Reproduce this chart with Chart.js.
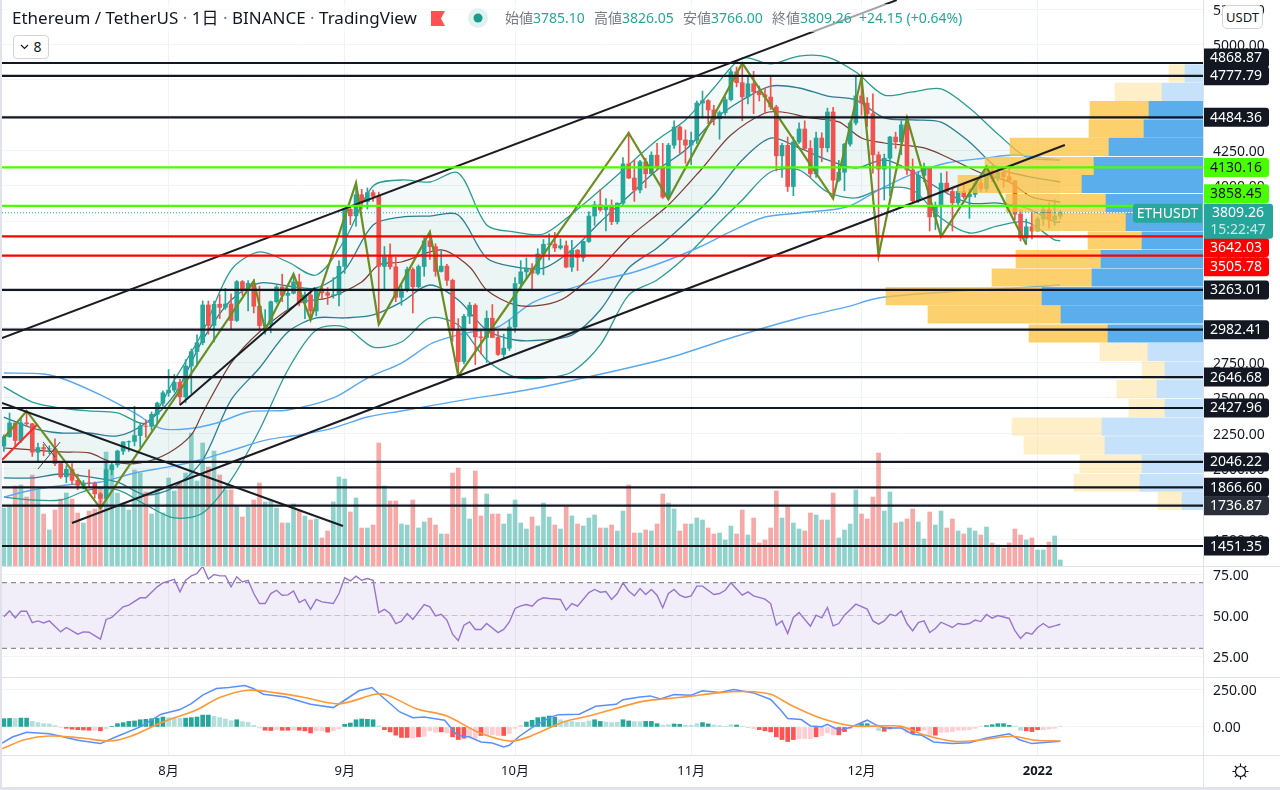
<!DOCTYPE html>
<html><head><meta charset="utf-8"><title>ETHUSDT</title>
<script src="https://cdn.jsdelivr.net/npm/chart.js@4"></script>
<style>
html,body{margin:0;padding:0;background:#fff;width:1280px;height:790px;overflow:hidden;font-family:"Noto Sans","Noto Sans CJK JP",sans-serif;color:#131722}
canvas{position:absolute;left:0}
.hd{position:absolute;white-space:nowrap}
.sep{position:absolute;background:#e0e3eb}
.g{color:#787b86}.t{color:#26a69a}
</style></head><body>
<div style="position:absolute;left:0;top:0;width:1280px;height:566px"><canvas id="cPrice" width="1280" height="566" style="top:0"></canvas></div>
<canvas id="cRsi" width="1280" height="111" style="top:566px"></canvas>
<canvas id="cMacd" width="1280" height="113" style="top:677px"></canvas>
<div class="sep" style="left:0;top:0;width:2px;height:790px"></div>
<div class="sep" style="left:1203px;top:0;width:1px;height:787px"></div>
<div class="sep" style="left:0;top:566px;width:1280px;height:1px"></div>
<div class="sep" style="left:0;top:677px;width:1280px;height:1px"></div>
<div class="sep" style="left:0;top:755px;width:1280px;height:1px"></div>
<div class="sep" style="left:0;top:787px;width:1280px;height:3px"></div>
<div style="position:absolute;left:3px;top:4px;width:972px;height:28px;background:rgba(255,255,255,.6)"></div>
<div class="hd" style="left:12px;top:7px;font-size:17px;line-height:22px">Ethereum / TetherUS <span class="g">·</span> 1日 <span class="g">·</span> BINANCE <span class="g">·</span> TradingView</div>
<svg style="position:absolute;left:430px;top:11px" width="16" height="15"><path d="M1 0H15L11 7.5L15 15H1Z" fill="#ff5252"/></svg>
<svg style="position:absolute;left:468px;top:8px" width="20" height="20"><circle cx="10" cy="10" r="10" fill="#e0f2f0"/><circle cx="10" cy="10" r="4.5" fill="#1a9c8c"/></svg>
<div class="hd" style="left:505px;top:8px;font-size:14px;line-height:20px"><span class="g">始値</span><span class="t">3785.10</span></div>
<div class="hd" style="left:594px;top:8px;font-size:14px;line-height:20px"><span class="g">高値</span><span class="t">3826.05</span></div>
<div class="hd" style="left:683px;top:8px;font-size:14px;line-height:20px"><span class="g">安値</span><span class="t">3766.00</span></div>
<div class="hd" style="left:772px;top:8px;font-size:14px;line-height:20px"><span class="g">終値</span><span class="t">3809.26</span></div>
<div class="hd t" style="left:859px;top:8px;font-size:14px;line-height:20px">+24.15 (+0.64%)</div>
<div class="hd" style="left:13px;top:35px;width:34px;height:22px;border:1px solid #d1d4dc;border-radius:4px;background:#fff;font-size:14px;line-height:22px;text-align:center"><svg width="9" height="6" style="margin-right:4px;vertical-align:2px"><path d="M1 1L4.5 4.5L8 1" stroke="#131722" fill="none" stroke-width="1.2"/></svg>8</div>
<div class="hd" style="left:1222px;top:5px;width:39px;height:22px;border:1px solid #d1d4dc;border-radius:5px;background:#fff;font-size:13px;line-height:22px;text-align:center">USDT</div>
<svg style="position:absolute;left:1232px;top:763px" width="17" height="17"><g stroke="#131722" stroke-width="1.2" fill="none"><circle cx="8.5" cy="8.5" r="5"/><path d="M8.5 0.5V3.5M8.5 13.5V16.5M0.5 8.5H3.5M13.5 8.5H16.5M2.8 2.8L5 5M12 12L14.2 14.2M2.8 14.2L5 12M12 5L14.2 2.8"/></g></svg>
<script>
// ---- categories: days counted from 1 Aug 2021 ----
const firstDay = -29;
const monthDays = [0,31,61,92,122,153];
const monthLabels = ['8月','9月','10月','11月','12月','2022'];
const priceTicks = [1500,1750,2000,2250,2500,2750,3000,3250,3500,3750,4000,4250,4500,4750,5000,5250];
const rsiTicks = [25,50,75];
const macdTicks = [0,250];
// ---- candles ----
const opens = [2158,2225,2322,2198,2323,2316,2115,2148,2138,2139,2035,1941,1994,1916,1880,1898,1895,1820,1788,1992,2026,2123,2188,2191,2233,2300,2298,2383,2462,
2536,2555,2610,2507,2725,2827,2890,3157,3012,3162,3140,3164,3047,3322,3267,3310,3148,3011,3017,3180,3284,3225,3240,3320,3172,3227,3114,3270,3243,3225,3229,
3430,3834,3787,3937,3888,3952,3926,3430,3498,3427,3211,3266,3408,3286,3429,3611,3570,3394,3432,3331,2975,2756,3077,3155,2931,2926,3063,2927,2807,2851,
3001,3308,3391,3418,3381,3518,3586,3588,3560,3576,3425,3544,3492,3606,3786,3866,3830,3847,3746,3877,4155,4055,3970,4170,4085,4217,4130,3920,4287,4416,4325,
4288,4322,4586,4603,4537,4474,4518,4610,4807,4730,4630,4722,4665,4644,4628,4558,4212,4286,3995,4310,4402,4264,4085,4338,4269,4522,4040,4096,4295,4445,
4636,4585,4510,4219,4118,4195,4345,4311,4431,4112,3894,4074,4130,3780,3860,4019,3960,3880,3960,3923,3940,4020,3980,4110,4050,4095,4065,4035,3800,3630,3710,
3680,3765,3830,3760,3785.1];
const highs = [2238,2392,2322,2355,2410,2320,2180,2170,2160,2210,2035,2020,2035,1960,1915,1990,1905,1830,2040,2045,2130,2190,2195,2440,2320,2345,2400,2470,2550,
2700,2665,2630,2770,2845,2945,3185,3185,3185,3230,3275,3235,3330,3330,3330,3335,3290,3125,3185,3295,3375,3275,3375,3375,3250,3250,3280,3290,3280,3350,3470,
3840,3850,4027,3975,3985,3970,3955,3570,3590,3495,3300,3425,3420,3440,3635,3680,3590,3540,3445,3340,3060,3090,3175,3165,2970,3115,3160,2970,2950,3050,
3350,3470,3490,3450,3555,3620,3660,3670,3625,3610,3615,3550,3610,3815,3890,3975,3910,3900,3880,4200,4380,4180,4180,4195,4240,4300,4300,4300,4460,4425,4395,
4380,4600,4670,4610,4570,4530,4630,4825,4840,4870,4780,4810,4705,4690,4770,4570,4300,4345,4345,4445,4460,4320,4380,4375,4550,4555,4180,4300,4460,4780,
4780,4625,4650,4240,4225,4350,4380,4460,4490,4190,4100,4160,4130,3885,4090,4100,3990,3990,4025,3980,4045,4070,4135,4145,4125,4100,4130,4035,3830,3765,3815,
3780,3860,3880,3900,3826.05];
const lows = [2120,2220,2160,2185,2300,2085,2045,2090,2105,2020,1930,1900,1885,1850,1855,1870,1790,1720,1770,1955,2010,2100,2120,2160,2150,2220,2270,2320,2440,
2510,2540,2450,2465,2530,2725,2875,2950,2895,3060,3125,2990,3040,3225,3115,3100,2985,2950,2960,3170,3180,3125,3235,3150,3060,3065,3080,3200,3160,3205,3150,
3380,3725,3715,3835,3835,3890,3050,3260,3410,3180,3155,3250,3100,3275,3360,3480,3360,3390,3295,2900,2650,2740,3025,2735,2810,2750,2925,2800,2785,2835,
2965,3265,3340,3270,3370,3370,3475,3535,3550,3420,3395,3400,3465,3600,3720,3820,3680,3725,3730,3855,4050,3890,3950,3985,4075,4110,3910,3905,4265,4230,4160,
4150,4300,4480,4440,4430,4330,4500,4600,4700,4460,4580,4510,4600,4510,4540,4105,4060,3960,3930,4300,4250,4060,4060,4170,4240,3910,4030,3965,4280,4430,
4500,4420,4090,3505,3900,3930,4265,4220,4080,3885,3880,4030,3680,3690,3640,3950,3680,3860,3910,3770,3920,3960,3960,4030,4035,3990,4030,3760,3610,3585,3625,
3680,3720,3700,3720,3766];
const closes = [2225,2322,2198,2323,2316,2115,2148,2138,2139,2035,1941,1994,1916,1880,1898,1895,1820,1788,1992,2026,2123,2188,2191,2233,2300,2298,2383,2462,2536,
2555,2610,2507,2725,2827,2890,3157,3012,3162,3140,3164,3047,3322,3267,3310,3148,3011,3017,3180,3284,3225,3240,3320,3172,3227,3114,3270,3243,3225,3229,3430,
3834,3787,3937,3888,3952,3926,3430,3498,3427,3211,3266,3408,3286,3429,3611,3570,3394,3432,3331,2975,2756,3077,3155,2931,2926,3063,2927,2807,2851,3001,
3308,3391,3418,3381,3518,3586,3588,3560,3576,3425,3544,3492,3606,3786,3866,3830,3847,3746,3877,4155,4055,3970,4170,4085,4217,4130,3920,4287,4416,4325,4288,
4322,4586,4603,4537,4474,4518,4610,4807,4730,4630,4722,4665,4644,4628,4558,4212,4286,3995,4310,4402,4264,4085,4338,4269,4522,4040,4096,4295,4445,4636,
4585,4510,4219,4118,4195,4345,4311,4431,4112,3894,4074,4130,3780,3860,4019,3960,3880,3960,3923,3940,4020,3980,4110,4050,4095,4065,4035,3800,3630,3710,3680,
3765,3830,3760,3785,3809.26];
// ---- volume ----
const volumes = [580,600,800,810,690,910,760,520,360,560,670,730,670,530,430,550,570,790,1140,990,730,630,560,960,930,740,520,790,530,880,750,830,930,1330,850,1230,990,1150,910,760,760,600,490,590,660,830,640,660,580,430,430,620,560,500,460,470,280,350,640,890,870,540,680,380,380,410,1230,800,650,650,
420,410,660,380,440,480,410,320,320,930,980,680,470,950,500,720,520,520,420,520,660,430,370,490,400,630,490,410,370,590,500,420,400,480,510,380,380,410,350,550,810,330,
330,360,350,420,720,630,570,350,420,420,480,460,380,320,330,260,400,320,560,310,480,230,260,380,750,480,590,430,370,350,530,510,460,460,730,280,360,420,760,520,470,690,1130,550,740,430,440,470,570,440,270,540,410,550,380,470,350,320,380,350,310,390,230,210,180,230,370,310,260,280,160,160,240,300,60];
// ---- bollinger bands, sampled ----
const bandDays = [-29,-24,-19,-14,-9,-4,1,6,11,16,21,26,31,36,41,46,51,56,61,66,71,76,81,86,91,96,101,106,111,116,121,126,131,136,141,146,151,156,157];
const bandUpper2 = [2577,2470,2428,2407,2393,2322,2626,2966,3404,3532,3461,3369,3617,3999,4041,4027,4091,3723,3673,3659,3801,3970,4147,4324,4466,4692,4904,4862,4918,4911,4805,4642,4664,4685,4550,4367,4204,4183,4183];
const bandUpper1 = [2364,2286,2251,2251,2230,2322,2520,2909,3192,3312,3291,3277,3404,3723,3779,3786,3793,3489,3426,3418,3546,3744,3928,4112,4253,4466,4607,4706,4692,4635,4607,4480,4466,4451,4310,4126,4069,4034,4027];
const bandLower1 = [1933,1933,1961,1940,1904,1812,1869,2060,2485,2711,2966,3065,3065,3086,3178,3298,3192,2980,2909,2909,2944,3121,3418,3560,3737,3935,4183,4338,4268,4183,4126,4183,4098,3970,3878,3878,3843,3744,3744];
const bandLower2 = [1798,1777,1777,1848,1848,1742,1650,1685,1919,2272,2697,2980,3001,2859,2895,3065,3015,2768,2647,2640,2683,2874,3227,3334,3496,3702,3900,4098,4112,3956,3914,3984,3970,3772,3666,3716,3744,3617,3610];
// ---- moving averages, sampled ----
const maMidDays = [-29,-24,-19,-14,-10,-5,0,4,6,11,16,23,28,34,37,41,48,53,56,61,66,70,76,81,88,94,99,105,108,113,118,122,126,133,137,143,148,152,157];
const maMid = [2145,2131,2117,2110,2046,2039,2110,2237,2393,2746,2966,3171,3206,3320,3440,3461,3546,3426,3263,3157,3157,3213,3418,3631,3864,4126,4359,4515,4522,4480,4452,4338,4303,4268,4204,4091,4027,3921,3885];
const maSlowDays = [-29,-22,-18,-12,-6,-1.5,3,8.5,14,21,29,35,41,46.5,52.5,58,64,70,76,82,88,93.5,99.5,105,111,119.4,125,130.5,137,144,149,157];
const maSlow = [2676,2668,2626,2520,2393,2286,2279,2322,2400,2414,2499,2640,2746,2888,2959,3001,3171,3263,3334,3390,3475,3567,3687,3779,3808,3850,3970,4076,4161,4197,4218,4183];
const maLongDays = [-29,-24,-18,-12,-6,0,5.5,11.3,17.3,23,29,35,41,52,63,73,88,99.5,111,119.4,125,137,149,157];
const maLong = [1798,1848,1883,1904,1968,2011,2060,2131,2202,2237,2286,2364,2407,2485,2555,2640,2782,2930,3065,3143,3206,3249,3277,3298];
// ---- zigzag pivots ----
const zigDays = [-29,-25,-12,15,17,22,25,33,37,46,51,81,88,101,117,122,125,130,136,144,151];
const zigPrices = [2216,2407,1720,3327,2980,3376,3051,4020,3020,3673,2655,4374,3905,4868,3910,4770,3505,4480,3640,4135,3585];
// ---- drawn trend lines ----
const channelTopDays = [-29.33,128.2], channelTopPrices = [2923,5314];
const channelLowDays = [-17,157.8], channelLowPrices = [1614,4289];
const downTrendDays = [-29.33,30.7], downTrendPrices = [2463,1593];
const supportDays = [2,25.8], supportPrices = [2449,3277];
const redLegDays = [-29.33,-23.2], redLegPrices = [2060,2308];
const crossADays = [-22.1,-20], crossAPrices = [2187,2081];
const crossBDays = [-23,-19.1], crossBPrices = [1996,2187];
// ---- horizontal levels ----
const blackLevels = [4868.87,4777.79,4484.36,3263.01,2982.41,2646.68,2427.96,2046.22,1866.60,1736.87,1451.35];
const greenLevels = [4130.16,3858.45];
const redLevels = [3642.03,3505.78];
const lastPrice = 3809.26;
// ---- volume profile ----
const vpPrices = [4795,4664,4536,4405,4275,4140,4013,3878,3744,3613,3482,3351,3220,3090,2955,2824,2693,2562,2428,2296,2163,2032,1899,1770];
const vpBlue = [18,41,54,59,94,109,121,97,77,61,102,111,161,142,95,55,38,46,38,101,98,61,63,21];
const vpYellow = [16,47,59,55,99,109,124,100,93,54,85,100,156,133,79,48,23,40,36,90,81,62,66,24];
const vpInValueArea = [0,0,1,1,1,1,1,1,1,1,1,1,1,1,1,0,0,0,0,0,0,0,0,0];
// ---- RSI ----
const rsiDays = [-29,-28,-27,-26,-25,-24,-23,-22,-21,-19,-18,-16,-15,-14,-12,-11,-10,-8,-7,-5,-4,-2,-1,1,2,3,4,5,6,7,8,9,10,11,12,13,14,15,16,17,18,19,20,21,22,23,24,25,26,27,29,30,31,32,33,34,35,36,37,38,39,40,41,42,43,45,46,47,48,49,50,51,52,53,54,55,56,58,59,60,61,62,63,64,65,66,67,69,70,71,72,74,75,76,77,78,79,80,81,82,83,84,85,86,87,88,89,90,91,92,93,94,96,97,98,99,101,102,103,105,106,107,108,109,110,111,113,114,115,116,117,118,119,121,123,124,125,126,127,128,129,130,131,132,133,134,135,136,138,139,140,141,142,143,144,145,146,148,149,150,151,152,153,154,155,156,157];
const rsiValues = [49.2,52.8,48.6,52.6,52.6,45.7,46.7,45.5,46.7,40,42.7,38.6,40,39.8,35.6,47.6,48.8,55.3,56.3,60.8,60.8,67.5,69.9,72,64.4,71.5,74.2,75.6,80,72.2,75,74.2,74.2,67.5,73.6,70.5,71.5,63.4,57.3,57.3,63.4,65.4,62.4,62.6,65,57.9,59.8,53.7,59.8,58.3,57.3,63.4,73,71.1,74,71.5,72.6,71.5,51.8,53.7,51.2,45.1,46.5,51.2,47.6,56.7,55.3,49.8,50.8,47.2,38.6,34.6,44.1,46.1,41.5,41.5,45.1,39.6,41.5,46.1,54.3,55.9,56.7,55.7,59.3,60.8,60.4,59.8,53.3,57.3,55.7,64,65.9,64.2,64.6,59.8,63.4,69.9,65,62,66.5,62.8,65.9,62.4,54.7,63.4,65.9,62.4,61,62,67.9,67.9,62.8,63.4,65.4,69.9,62.4,64.4,62,60,57.3,44.1,46.7,39,48.8,51.8,43.5,50.2,48.6,54.9,43.7,45.1,50.2,56.9,53.9,46.7,44.7,46.7,50.8,49.8,52.8,45.1,40.7,45.7,46.7,39.6,42.1,45.9,42.7,45.1,44.5,45.1,47.2,46.3,50.6,48.4,50,48.2,40.7,36,39.6,38.6,42.7,45.1,42.7,43.7,44.7];
const rsiBandHigh = 70, rsiBandMid = 50, rsiBandLow = 30;
// ---- MACD ----
const macdDays = [-29.3,-27.5,-25,-21,-19,-16,-12,-9,-5,-1.3,2,4,6,8.4,10.6,13.4,14.9,16.7,20.6,25,29,31,33.5,35.8,37.5,40.7,43,45,48.6,50.8,53,55,57,59,60,61.6,63.7,67.3,68.7,72.3,75.2,78.8,80,83,84.8,86.6,89,92,94,97,99.5,103,106,107.8,109,111.4,113,115,116,118,120,123,124.7,126,129,131,132.6,134.7,138,141,144,148,149.8,152,157];
const macdLine = [-107,-67,-36,-45,-62,-89,-111,-62,0,85,116,156,212,256,263,276,256,218,200,151,129,178,241,263,205,100,62,67,45,-56,-67,-100,-107,-134,-122,-67,-11,67,82,85,138,151,182,200,207,187,216,212,241,229,250,227,183,111,56,49,7,2,18,-22,-4,45,11,-7,-7,-49,-56,-100,-111,-105,-74,-45,-85,-111,-96];
const signalDays = [-29.3,-25.4,-21,-15.3,-10.3,-6.7,-1,4.8,9,14,19,23.5,30,36.4,38.6,43.6,49,54.4,60.1,63.7,69.5,74.5,83,86.6,92,96.6,101.7,106,109.6,114.6,120.4,126,129,133.3,138.3,142.6,148.4,152.7,157];
const signalLine = [-145,-85,-60,-74,-94,-62,33,111,196,245,227,200,154,218,212,122,73,-33,-94,-62,33,78,167,185,205,227,236,218,145,62,7,7,4,-56,-96,-89,-62,-89,-94];
const macdHist = [55,57,57,59,59,37,29,22,20,9,-4,-9,-15,-18,-20,-22,-22,-26,-13,4,
22,29,37,40,48,51,55,59,66,62,62,57,59,62,66,79,79,70,62,53,42,48,35,31,11,-7,-22,-24,-18,-22,-22,-20,-22,-26,-40,-26,-26,-35,-26,-13,18,26,48,53,51,48,7,-18,-33,-55,-70,-70,-75,-66,-62,-26,-35,-33,-40,-66,-84,-75,-66,-75,-57,-53,-53,-57,-57,-44,-9,11,33,44,62,66,73,66,48,40,37,31,31,40,48,37,33,29,31,48,40,35,
35,37,37,22,11,15,20,18,11,11,22,29,20,13,9,2,15,13,2,-4,-13,-18,-26,-33,-66,-84,-97,-84,-79,-77,-79,-66,-57,-40,-53,-53,-31,-13,11,22,22,4,-24,-29,-13,-9,-7,-40,-44,-26,-22,-57,-55,-35,-35,-31,-22,-22,-18,-9,4,9,15,22,22,11,2,-22,-26,-31,-18,-18,-13,-9,4];
const macdHistTone = ('DDLDDLLLLLPRRRRRPRPD'+'DDDDDDDDDLLLDDDDDLLLLDLLLPRRPRRPRRRPPRPPDDDDDDLRRRRRPRPPPRPRRRPPRPPPRPPPDDDDDDLLLLLLDDLLLDDLL'+'DDDLLDDLLLDDLLLLDLLPRRRRRRRPPPRPPPRRPPDDDLRRPPPRRPPRPPPPPPPPDDDDDLLRRRPPPPL').split('');

// ---- helpers ----
const dayLabels = closes.map((_,i)=>firstDay+i);
const zipXY = (xs,ys)=>xs.map((x,i)=>({x,y:ys[i]}));
const UP='#26a69a',DOWN='#ef5350',FONT='"Noto Sans","Noto Sans CJK JP",sans-serif';
const X_MIN=-29.33,X_MAX=182.12;
const isUp=closes.map((c,i)=>c>=opens[i]);
const lineDs=(data,color,width,order,extra)=>Object.assign({type:'line',data,borderColor:color,borderWidth:width,pointRadius:0,fill:false,order,yAxisID:'y',xAxisID:'x'},extra||{});
const levelDs=(p,color,order)=>lineDs([{x:X_MIN,y:p},{x:X_MAX,y:p}],color,2.2,order);
const fixAxis=w=>(s)=>{ if(w!==undefined) s.width=w; s.paddingTop=0;s.paddingBottom=0;s.paddingLeft=0;s.paddingRight=0; };
const xScale=(extra)=>Object.assign({type:'linear',min:X_MIN,max:X_MAX,offset:false,
  grid:{color:'#f1f2f5',drawTicks:false,offset:false},border:{display:false},
  afterBuildTicks:s=>{s.ticks=monthDays.map(v=>({value:v}))},
  ticks:{display:false},afterFit:s=>{s.height=0;s.paddingLeft=0;s.paddingRight=0}},extra||{});
const yScale=(min,max,ticks,extra)=>Object.assign({type:'linear',position:'right',min,max,offset:false,
  grid:{color:'#f3f4f6',drawTicks:false,offset:false},border:{display:false},
  afterBuildTicks:s=>{s.ticks=ticks.map(v=>({value:v}))},
  ticks:{autoSkip:false,padding:10,labelOffset:1.5,color:'#131722',font:{family:FONT,size:14},callback:v=>Number(v).toFixed(2)},
  afterFit:fixAxis(77)},extra||{});
const base={responsive:false,animation:false,events:[],layout:{padding:{left:2,top:0,right:0,bottom:0}},
  plugins:{legend:{display:false},tooltip:{enabled:false}},elements:{line:{capBezierPoints:true}}};

// ---- price tags drawn from the price scale ----
const tagShift={4868.87:-5,3858.45:-12,3642.03:11,3505.78:11};
const tagPlugin={id:'tags',afterDraw(c){
  const y=c.scales.y,ctx=c.ctx,left=1203;
  ctx.save();ctx.font='14px '+FONT;ctx.textAlign='center';ctx.textBaseline='middle';
  const box=(x,py,w,h,bg,fg,lines)=>{ctx.fillStyle=bg;ctx.beginPath();ctx.roundRect(x,py-h/2,w,h,[0,3,3,0]);ctx.fill();
    lines.forEach((l,i)=>{ctx.fillStyle=i?'rgba(255,255,255,.75)':fg;ctx.fillText(l,x+w/2,py-(lines.length-1)*8.5+i*17+0.5);});};
  blackLevels.forEach(p=>{box(left,y.getPixelForValue(p)+(tagShift[p]||0),66,19,p===1736.87?'#2a2e39':'#131722','#fff',[p.toFixed(2)])});
  greenLevels.forEach(p=>{box(left,y.getPixelForValue(p)+(tagShift[p]||0),66,19,'#48ff00','#131722',[p.toFixed(2)])});
  redLevels.forEach(p=>{box(left,y.getPixelForValue(p)+(tagShift[p]||0),66,19,'#ff0000','#fff',[p.toFixed(2)])});
  const ly=y.getPixelForValue(lastPrice);
  box(left,ly+8.5,70,35,'#26a69a','#fff',[lastPrice.toFixed(2),'15:22:47']);
  ctx.fillStyle='#2aa79b';ctx.beginPath();ctx.roundRect(1133,ly-9,69,19,[3,0,0,3]);ctx.fill();
  ctx.fillStyle='#fff';ctx.fillText('ETHUSDT',1167.5,ly+1);
  ctx.restore();
}};

// ---- price pane ----
const bandLine=(vals,color,extra,order)=>lineDs(zipXY(bandDays,vals),color,1.3,order,Object.assign({tension:.3},extra||{}));
new Chart(document.getElementById('cPrice'),{type:'bar',plugins:[tagPlugin],data:{datasets:[
  {label:'vol',data:zipXY(dayLabels,volumes),yAxisID:'yV',xAxisID:'x',barThickness:4,grouped:false,order:100,backgroundColor:isUp.map(u=>u?'rgba(38,166,154,.5)':'rgba(239,83,80,.5)')},
  bandLine(bandUpper2,'#2d9c90',{fill:{target:4,above:'rgba(38,150,140,.055)',below:'rgba(38,150,140,.055)'}},90),
  bandLine(bandUpper1,'#2b7f92',{fill:{target:3,above:'rgba(38,150,140,.04)',below:'rgba(38,150,140,.04)'}},89),
  bandLine(bandLower1,'#2b7f92',null,88),
  bandLine(bandLower2,'#2d9c90',null,87),
  lineDs(zipXY(maLongDays,maLong),'#5aa9f0',1.4,86,{tension:.3}),
  lineDs(zipXY(maSlowDays,maSlow),'#5aa9f0',1.4,85,{tension:.3}),
  lineDs(zipXY(maMidDays,maMid),'#7d3b35',1.2,84,{tension:.3}),
  {label:'wick',data:dayLabels.map((d,i)=>({x:d,y:[lows[i],highs[i]]})),barThickness:1,grouped:false,order:71,backgroundColor:isUp.map(u=>u?UP:DOWN),yAxisID:'y',xAxisID:'x'},
  {label:'body',data:dayLabels.map((d,i)=>({x:d,y:[opens[i],closes[i]]})),barThickness:4,grouped:false,order:70,backgroundColor:isUp.map(u=>u?UP:DOWN),yAxisID:'y',xAxisID:'x'},
  {label:'vpYellow',indexAxis:'y',data:vpPrices.map((p,i)=>({y:p,x:[vpBlue[i],vpBlue[i]+vpYellow[i]]})),xAxisID:'xP',yAxisID:'y',barThickness:17.5,grouped:false,order:60,backgroundColor:vpInValueArea.map(f=>f?'rgba(251,192,60,.75)':'rgba(252,215,120,.4)')},
  {label:'vpBlue',indexAxis:'y',data:vpPrices.map((p,i)=>({y:p,x:[0,vpBlue[i]]})),xAxisID:'xP',yAxisID:'y',barThickness:17.5,grouped:false,order:59,backgroundColor:vpInValueArea.map(f=>f?'#5aaeec':'#c5e2fa')},
  lineDs([{x:X_MIN,y:lastPrice},{x:X_MAX,y:lastPrice}],'#26a69a',1,58,{borderDash:[1,2]}),
  lineDs(zipXY(zigDays,zigPrices),'#6b8e23',2.2,30),
  lineDs(zipXY(redLegDays,redLegPrices),'#ff2b2b',2,29),
  lineDs(zipXY(channelTopDays,channelTopPrices),'#1c1c22',2,20),
  lineDs(zipXY(channelLowDays,channelLowPrices),'#1c1c22',2,20),
  lineDs(zipXY(downTrendDays,downTrendPrices),'#1c1c22',2,20),
  lineDs(zipXY(supportDays,supportPrices),'#1c1c22',2,20),
  lineDs(zipXY(crossADays,crossAPrices),'#444',1,20),
  lineDs(zipXY(crossBDays,crossBPrices),'#444',1,20),
  ...blackLevels.map(p=>levelDs(p,'#131722',10)),
  ...greenLevels.map(p=>levelDs(p,'#48ff00',9)),
  ...redLevels.map(p=>levelDs(p,'#ff0000',9))
]},options:Object.assign({},base,{scales:{
  x:xScale(),
  xP:{type:'linear',display:false,reverse:true,min:0,max:1201,offset:false},
  y:yScale(1310,5314.6,priceTicks),
  yV:{type:'linear',display:false,min:0,max:5660,position:'left'}
}})});

// ---- RSI pane ----
const histColor={D:'#26a69a',L:'#b2dfdb',R:'#ff5252',P:'#ffcdd2'};
new Chart(document.getElementById('cRsi'),{type:'line',data:{datasets:[
  lineDs([{x:X_MIN,y:rsiBandHigh},{x:X_MAX,y:rsiBandHigh}],'#8f8f98',1.2,6,{borderDash:[5,4],fill:{target:1,above:'rgba(126,87,194,.1)',below:'rgba(126,87,194,.1)'}}),
  lineDs([{x:X_MIN,y:rsiBandLow},{x:X_MAX,y:rsiBandLow}],'#8f8f98',1.2,5,{borderDash:[5,4]}),
  lineDs([{x:X_MIN,y:rsiBandMid},{x:X_MAX,y:rsiBandMid}],'#c4c2cc',1.2,4,{borderDash:[5,4]}),
  lineDs(zipXY(rsiDays,rsiValues),'#9575cd',1.4,1)
]},options:Object.assign({},base,{scales:{x:xScale(),y:yScale(12.5,80.2,rsiTicks)}})});

// ---- MACD pane ----
new Chart(document.getElementById('cMacd'),{type:'bar',data:{datasets:[
  {label:'hist',data:zipXY(dayLabels,macdHist),barThickness:4,grouped:false,order:10,backgroundColor:macdHistTone.map(k=>histColor[k]),yAxisID:'y',xAxisID:'x'},
  lineDs(zipXY(macdDays,macdLine),'#5b8ff9',1.5,3),
  lineDs(zipXY(signalDays,signalLine),'#ff9838',1.6,2,{tension:.3})
]},options:Object.assign({},base,{scales:{
  x:xScale({ticks:{display:true,autoSkip:false,maxRotation:0,padding:8,color:'#131722',
    font:c=>({family:FONT,size:13,weight:(c.tick&&c.tick.value===153)?'bold':'normal'}),
    callback:v=>monthLabels[monthDays.indexOf(v)]},
    afterFit:s=>{s.height=35;s.paddingLeft=0;s.paddingRight=0}}),
  y:yScale(-187,333,macdTicks)
}})});
</script>
</body></html>
